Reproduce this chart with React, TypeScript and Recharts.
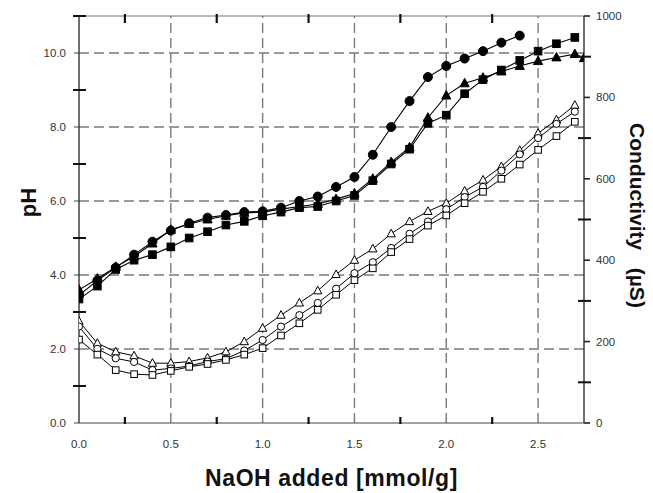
import React from 'react';
import { ComposedChart, Line, XAxis, YAxis, ReferenceLine } from 'recharts';

// NaOH added [mmol/g]
const naoh = [0, 0.1, 0.2, 0.3, 0.4, 0.5, 0.6, 0.7, 0.8, 0.9, 1.0, 1.1, 1.2, 1.3, 1.4, 1.5, 1.6, 1.7, 1.8, 1.9, 2.0, 2.1, 2.2, 2.3, 2.4, 2.5, 2.6, 2.7, 2.75];

// pH curves (filled markers)
const phCircle = [3.45, 3.85, 4.2, 4.55, 4.9, 5.2, 5.4, 5.55, 5.62, 5.7, 5.72, 5.82, 6.0, 6.12, 6.38, 6.65, 7.25, 8.0, 8.7, 9.35, 9.65, 9.85, 10.05, 10.28, 10.47, null, null, null, null];
const phTriangle = [3.6, 3.9, 4.22, 4.5, 4.85, 5.22, 5.38, 5.5, 5.6, 5.68, 5.7, 5.78, 5.85, 5.92, 6.05, 6.2, 6.6, 7.05, 7.45, 8.25, 8.85, 9.18, 9.33, 9.5, 9.65, 9.78, 9.88, 9.97, 9.86];
const phSquare = [3.35, 3.7, 4.15, 4.4, 4.55, 4.76, 5.0, 5.17, 5.35, 5.45, 5.6, 5.7, 5.82, 5.85, 6.0, 6.15, 6.55, 7.0, 7.4, 8.1, 8.32, 8.9, 9.28, 9.54, 9.8, 10.05, 10.25, 10.42, null];

// Conductivity curves (open markers), µS
const condTriangle = [250, 196, 175, 165, 147, 147, 151, 160, 175, 200, 233, 265, 295, 325, 365, 400, 428, 465, 495, 520, 540, 570, 597, 630, 670, 712, 745, 781, null];
const condCircle = [237, 182, 159, 150, 130, 134, 140, 151, 158, 178, 204, 237, 265, 295, 330, 368, 395, 430, 465, 495, 525, 555, 580, 620, 660, 700, 735, 765, null];
const condSquare = [205, 168, 130, 120, 118, 128, 138, 145, 155, 168, 184, 215, 245, 278, 315, 351, 380, 420, 452, 485, 510, 540, 568, 600, 635, 671, 705, 740, null];

// Axis ticks and grid values
const xTicks = [0, 0.25, 0.5, 0.75, 1.0, 1.25, 1.5, 1.75, 2.0, 2.25, 2.5];
const xTopTicks = [0.25, 0.75, 1.25, 1.75, 2.25];
const phTicks = [0, 1, 2, 3, 4, 5, 6, 7, 8, 9, 10, 11];
const condTicks = [0, 100, 200, 300, 400, 500, 600, 700, 800, 900, 1000];
const gridX = [0.5, 1.0, 1.5, 2.0, 2.5];
const gridY = [2, 4, 6, 8, 10];

const rows = naoh.map((x, i) => ({
  naoh: x,
  phCircle: phCircle[i],
  phTriangle: phTriangle[i],
  phSquare: phSquare[i],
  condTriangle: condTriangle[i],
  condCircle: condCircle[i],
  condSquare: condSquare[i],
}));

const FONT = '"Liberation Sans", Arial, Helvetica, sans-serif';

type Shape = 'circle' | 'triangle' | 'square';
function makeDot(name: string, shape: Shape, filled: boolean, size: number) {
  return (props: any) => {
    const { cx, cy, value, index } = props;
    const key = `${name}-${index}`;
    if (value == null || cx == null || cy == null || isNaN(cx) || isNaN(cy)) return <g key={key} />;
    const common = { fill: filled ? '#000' : '#fff', stroke: '#000', strokeWidth: 1 };
    if (shape === 'circle') return <circle key={key} cx={cx} cy={cy} r={size} {...common} />;
    if (shape === 'square')
      return <rect key={key} x={cx - size} y={cy - size} width={size * 2} height={size * 2} {...common} />;
    const h = size * 1.15;
    return (
      <polygon
        key={key}
        points={`${cx},${cy - h * 1.1} ${cx + h},${cy + h * 0.75} ${cx - h},${cy + h * 0.75}`}
        {...common}
      />
    );
  };
}

const isMajorX = (v: number) => Math.abs(v * 2 - Math.round(v * 2)) < 1e-6;

const LeftTick = (props: any) => {
  const { x, y, payload } = props;
  const v = payload.value;
  if (v % 2 === 1)
    return <line x1={x - 6} x2={x + 7} y1={y} y2={y} stroke="#111" strokeWidth={2} />;
  return (
    <g>
      <line x1={x - 5} x2={x} y1={y} y2={y} stroke="#444" strokeWidth={1} />
      <text x={x - 13} y={y + 4} textAnchor="end" fontSize={11.5} fill="#333" fontFamily={FONT}>
        {v.toFixed(1)}
      </text>
    </g>
  );
};

const RightTick = (props: any) => {
  const { x, y, payload } = props;
  const v = payload.value;
  if (v % 200 !== 0)
    return <line x1={x - 6} x2={x + 7} y1={y} y2={y} stroke="#111" strokeWidth={2} />;
  return (
    <g>
      <line x1={x} x2={x + 6} y1={y} y2={y} stroke="#222" strokeWidth={1.6} />
      <text x={x + 12} y={y + 4} textAnchor="start" fontSize={11.5} fill="#333" fontFamily={FONT}>
        {String(v)}
      </text>
    </g>
  );
};

const BottomTick = (props: any) => {
  const { x, y, payload } = props;
  const v = payload.value;
  if (!isMajorX(v))
    return <line x1={x} x2={x} y1={y - 6} y2={y + 1} stroke="#111" strokeWidth={2.2} />;
  return (
    <text x={x} y={y + 25} textAnchor="middle" fontSize={11.5} fill="#333" fontFamily={FONT}>
      {v.toFixed(1)}
    </text>
  );
};

const TopTick = (props: any) => {
  const { x, y } = props;
  return <line x1={x} x2={x} y1={y - 2} y2={y + 7} stroke="#111" strokeWidth={2.2} />;
};

const XTitle = (props: any) => {
  const vb = props.viewBox || { x: 79, y: 423, width: 505, height: 70 };
  return (
    <text
      x={vb.x + vb.width / 2}
      y={vb.y + 63}
      textAnchor="middle"
      fontSize={23}
      fontWeight="bold"
      fill="#111"
      fontFamily={FONT}
      letterSpacing={0.6}
    >
      NaOH added [mmol/g]
    </text>
  );
};

const LeftTitle = (props: any) => {
  const vb = props.viewBox || { x: 0, y: 16, width: 79, height: 407 };
  const cx = vb.x + 28;
  const cy = vb.y + vb.height / 2 - 17;
  return (
    <text
      x={cx}
      y={cy}
      transform={`rotate(-90 ${cx} ${cy})`}
      textAnchor="middle"
      dominantBaseline="central"
      fontSize={22}
      fontWeight="bold"
      fill="#111"
      fontFamily={FONT}
    >
      pH
    </text>
  );
};

const RightTitle = (props: any) => {
  const vb = props.viewBox || { x: 584, y: 16, width: 69, height: 407 };
  const cx = vb.x + 53;
  const cy = vb.y + vb.height / 2 - 4;
  return (
    <text
      x={cx}
      y={cy}
      transform={`rotate(90 ${cx} ${cy})`}
      textAnchor="middle"
      dominantBaseline="central"
      fontSize={21}
      fontWeight="bold"
      fill="#111"
      fontFamily={FONT}
      xmlSpace="preserve"
      style={{ whiteSpace: 'pre' }}
    >
      {'Conductivity   (\u00B5S)'}
    </text>
  );
};

export default function App() {
  const gridStyle = { stroke: '#7a7a7a', strokeWidth: 1.4, strokeDasharray: '10 5' };
  return (
    <div style={{ position: 'absolute', left: 0, top: 0, background: '#fff' }}>
      <ComposedChart width={653} height={493} data={rows} margin={{ top: 0, right: 0, bottom: 0, left: 0 }}>
        <XAxis
          xAxisId="bottom"
          dataKey="naoh"
          type="number"
          domain={[0, 2.75]}
          ticks={xTicks}
          interval={0}
          height={70}
          tickSize={0}
          tickMargin={0}
          tick={<BottomTick />}
          axisLine={{ stroke: '#444', strokeWidth: 1.2 }}
          tickLine={false}
          allowDataOverflow
          label={{ content: <XTitle /> }}
        />
        <XAxis
          xAxisId="top"
          orientation="top"
          dataKey="naoh"
          type="number"
          domain={[0, 2.75]}
          ticks={xTopTicks}
          interval={0}
          height={16}
          tickSize={0}
          tickMargin={0}
          tick={<TopTick />}
          axisLine={{ stroke: '#777', strokeWidth: 1 }}
          tickLine={false}
          allowDataOverflow
        />
        <YAxis
          yAxisId="left"
          type="number"
          domain={[0, 11]}
          ticks={phTicks}
          interval={0}
          width={79}
          tickSize={0}
          tickMargin={0}
          tick={<LeftTick />}
          axisLine={{ stroke: '#222', strokeWidth: 1.3 }}
          tickLine={false}
          allowDataOverflow
          label={{ content: <LeftTitle /> }}
        />
        <YAxis
          yAxisId="right"
          orientation="right"
          type="number"
          domain={[0, 1000]}
          ticks={condTicks}
          interval={0}
          width={69}
          tickSize={0}
          tickMargin={0}
          tick={<RightTick />}
          axisLine={{ stroke: '#222', strokeWidth: 1.3 }}
          tickLine={false}
          allowDataOverflow
          label={{ content: <RightTitle /> }}
        />
        {gridX.map((v) => (
          <ReferenceLine key={`gx${v}`} x={v} xAxisId="bottom" yAxisId="left" {...gridStyle} />
        ))}
        {gridY.map((v) => (
          <ReferenceLine key={`gy${v}`} y={v} xAxisId="bottom" yAxisId="left" {...gridStyle} />
        ))}

        <Line xAxisId="bottom" yAxisId="right" dataKey="condTriangle" type="linear" stroke="#000" strokeWidth={1} dot={makeDot('ct', 'triangle', false, 3.6)} activeDot={false} isAnimationActive={false} />
        <Line xAxisId="bottom" yAxisId="right" dataKey="condCircle" type="linear" stroke="#000" strokeWidth={1} dot={makeDot('cc', 'circle', false, 3.6)} activeDot={false} isAnimationActive={false} />
        <Line xAxisId="bottom" yAxisId="right" dataKey="condSquare" type="linear" stroke="#000" strokeWidth={1} dot={makeDot('cs', 'square', false, 3.3)} activeDot={false} isAnimationActive={false} />

        <Line xAxisId="bottom" yAxisId="left" dataKey="phSquare" type="linear" stroke="#000" strokeWidth={1.1} dot={makeDot('ps', 'square', true, 3.8)} activeDot={false} isAnimationActive={false} />
        <Line xAxisId="bottom" yAxisId="left" dataKey="phTriangle" type="linear" stroke="#000" strokeWidth={1.1} dot={makeDot('pt', 'triangle', true, 4)} activeDot={false} isAnimationActive={false} />
        <Line xAxisId="bottom" yAxisId="left" dataKey="phCircle" type="linear" stroke="#000" strokeWidth={1.1} dot={makeDot('pc', 'circle', true, 4.5)} activeDot={false} isAnimationActive={false} />
      </ComposedChart>
    </div>
  );
}
